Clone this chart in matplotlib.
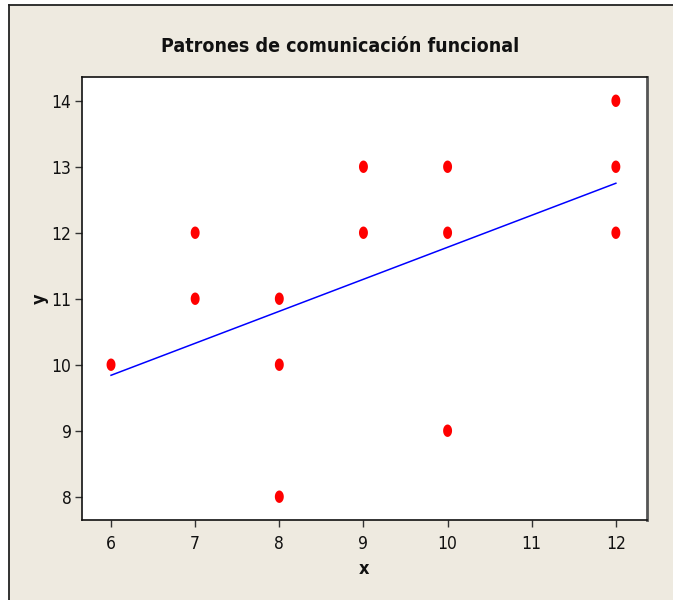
import matplotlib
matplotlib.use("Agg")
import matplotlib.pyplot as plt
from matplotlib.path import Path
from matplotlib.lines import Line2D
from matplotlib.patches import Rectangle
import numpy as np

# Observations
x_vals = [6, 7, 7, 8, 8, 8, 9, 9, 10, 10, 10, 12, 12, 12]
y_vals = [10, 11, 12, 8, 10, 11, 12, 13, 9, 12, 13, 12, 13, 14]

# Fitted regression line (end points)
fit_x = [6, 12]
fit_y = [9.84, 12.75]

x_ticks = [6, 7, 8, 9, 10, 11, 12]
y_ticks = [8, 9, 10, 11, 12, 13, 14]

title = "Patrones de comunicación funcional"
x_label = "x"
y_label = "y"

plt.rcParams["font.family"] = ["DejaVu Sans"]
plt.rcParams["font.stretch"] = "condensed"

BG = "#EEEAE0"
W, H = 673, 600
fig = plt.figure(figsize=(W / 100, H / 100), dpi=100, facecolor="white")

# beige panel with a dark edge on top and left
fig.patches.append(Rectangle((8.5 / W, 0), 1, 1 - 4.5 / H, transform=fig.transFigure,
                             facecolor=BG, edgecolor="none", zorder=-2))
fig.lines.append(Line2D([8.5 / W, 1], [1 - 4.5 / H, 1 - 4.5 / H], transform=fig.transFigure,
                        color="#222222", lw=1.3, zorder=-1))
fig.lines.append(Line2D([8.5 / W, 8.5 / W], [0, 1 - 4.5 / H], transform=fig.transFigure,
                        color="#222222", lw=1.3, zorder=-1))

ax = fig.add_axes([82 / W, 1 - 520 / H, (647 - 82) / W, (520 - 77) / H])
ax.set_facecolor("white")

# slightly tall ellipse marker
t = np.linspace(0, 2 * np.pi, 40)
ell = Path(np.column_stack([0.72 * np.cos(t), np.sin(t)]), closed=True)

ax.plot(fit_x, fit_y, color="#0000FF", lw=1.1, zorder=2)
ax.scatter(x_vals, y_vals, marker=ell, s=80, color="#FF0000", edgecolors="none", zorder=3)

ax.set_xlim(5.655, 12.37)
ax.set_ylim(7.647, 14.36)
ax.set_xticks(x_ticks)
ax.set_yticks(y_ticks)
ax.set_xticklabels([str(v) for v in x_ticks])
ax.set_yticklabels([str(v) for v in y_ticks])
ax.tick_params(direction="out", length=5, width=1, color="#333333",
               labelsize=12.5, labelcolor="#111111")
ax.tick_params(axis="x", pad=6)
ax.tick_params(axis="y", pad=2.5)

for side in ("left", "bottom", "top"):
    ax.spines[side].set_color("#111111")
    ax.spines[side].set_linewidth(1.2)
ax.spines["right"].set_color("#555555")
ax.spines["right"].set_linewidth(2)

fig.text(340 / W, 1 - 47 / H, title, ha="center", va="center",
         fontsize=14, fontweight="bold", color="#111111")
fig.text(364 / W, 1 - 569 / H, x_label, ha="center", va="center",
         fontsize=13, fontweight="bold", color="#111111")
fig.text(40 / W, 1 - 299 / H, y_label, ha="center", va="center", rotation=90,
         fontsize=13, fontweight="bold", color="#111111")

fig.savefig("out.png", dpi=100, facecolor=fig.get_facecolor())
